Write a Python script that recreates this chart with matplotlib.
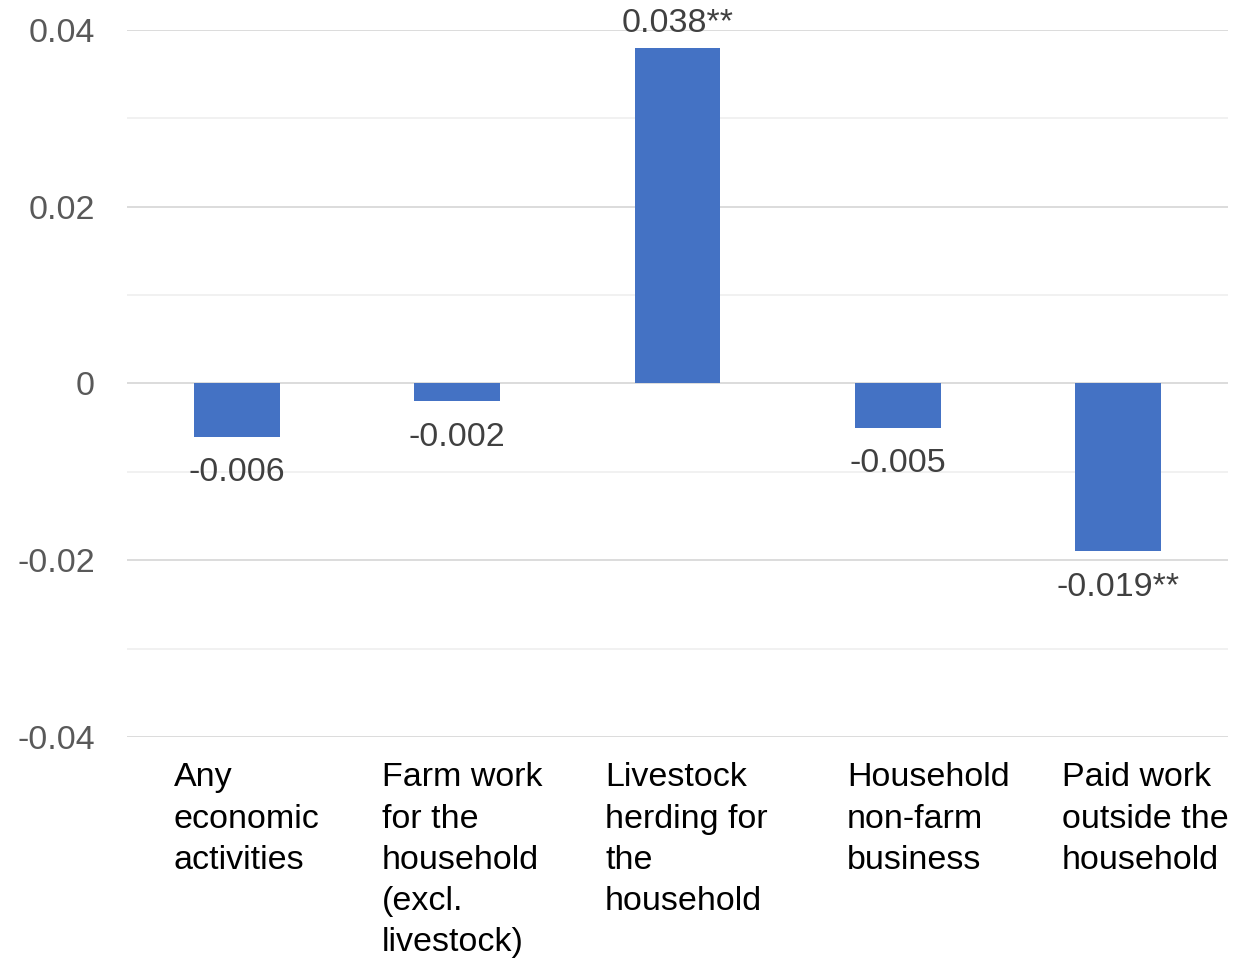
import matplotlib.pyplot as plt
from matplotlib import transforms

plt.rcParams['font.family'] = ['Liberation Sans', 'DejaVu Sans']

# Data
categories = [
    "Any\neconomic\nactivities",
    "Farm work\nfor the\nhousehold\n(excl.\nlivestock)",
    "Livestock\nherding for\nthe\nhousehold",
    "Household\nnon-farm\nbusiness",
    "Paid work\noutside the\nhousehold",
]
values = [-0.006, -0.002, 0.038, -0.005, -0.019]
value_labels = ["-0.006", "-0.002", "0.038**", "-0.005", "-0.019**"]
y_ticks = [-0.04, -0.02, 0, 0.02, 0.04]
y_tick_labels = ["-0.04", "-0.02", "0", "0.02", "0.04"]

# left edge of each wrapped category label, relative to the category centre
label_shift = [-0.287, -0.342, -0.329, -0.231, -0.255]

fig = plt.figure(figsize=(12.35, 9.6), dpi=100)
ax = fig.add_axes([0.1028, 0.2323, 0.8915, 0.7365])

x = list(range(len(values)))
ax.bar(x, values, width=0.39, color="#4472C4", zorder=3)

# gridlines: major and lighter minor
for v in [-0.03, -0.01, 0.01, 0.03]:
    ax.axhline(v, color="#f0f0f0", lw=1.3, zorder=1)
for v in y_ticks:
    ax.axhline(v, color="#d9d9d9", lw=1.3, zorder=1)

ax.set_xlim(-0.5, 4.5)
ax.set_ylim(-0.04, 0.04)
ax.set_yticks(y_ticks)
ax.set_yticklabels(y_tick_labels, fontsize=24.5, color="#595959")
ax.tick_params(axis="y", length=0, pad=23)
ax.set_xticks([])
for s in ax.spines.values():
    s.set_visible(False)

# data labels
for xi, v, lab in zip(x, values, value_labels):
    if v >= 0:
        ax.annotate(lab, (xi, v), xytext=(0, 6), textcoords="offset points",
                    ha="center", va="bottom", fontsize=24.5, color="#404040")
    else:
        ax.annotate(lab, (xi, v), xytext=(0, -15), textcoords="offset points",
                    ha="center", va="top", fontsize=24.5, color="#404040")

# category labels below the plot
trans = transforms.blended_transform_factory(ax.transData, ax.transAxes)
for xi, cat, sh in zip(x, categories, label_shift):
    ax.text(xi + sh, -0.036, cat, transform=trans, ha="left", va="top",
            fontsize=24.5, color="#000000", linespacing=1.425)

fig.savefig("out.png", dpi=100)
